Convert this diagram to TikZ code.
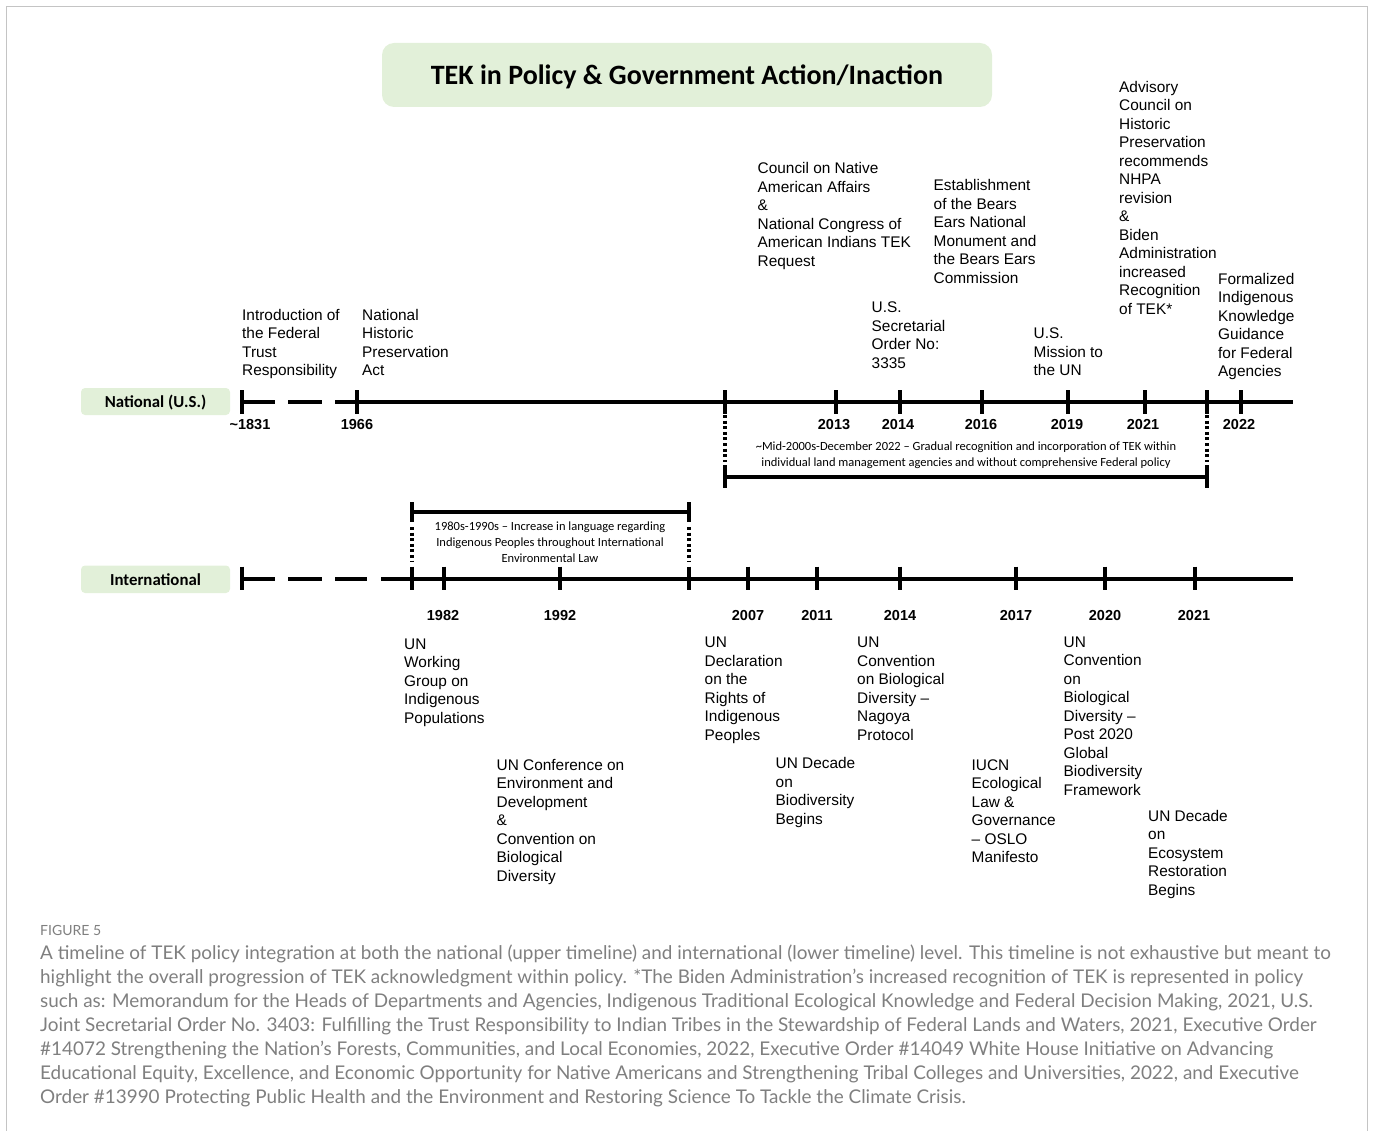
\documentclass[tikz,border=0pt]{standalone}
\usepackage{fontspec}
\setmainfont{Liberation Sans}
\newfontfamily\calib{Carlito}
\newfontfamily\capfont{Lato}
\definecolor{boxgreen}{HTML}{E2F0D9}
\definecolor{capgrey}{HTML}{7F7F7F}
\definecolor{framegrey}{HTML}{C4C4C4}
\begin{document}
\begin{tikzpicture}[x=1pt,y=-1pt,
  lbl/.style={anchor=base west, inner sep=0pt, align=left, font=\fontsize{15.4}{18.5}\selectfont},
  yr/.style={inner sep=0pt, font=\fontsize{14.5}{17}\selectfont\bfseries},
  axis/.style={line width=4pt},
  tk/.style={line width=3.5pt},
  dotline/.style={line width=3.5pt, dash pattern=on 3pt off 2.6pt},
  brtext/.style={inner sep=0pt, anchor=base, align=center, font=\calib\fontsize{12.5}{15.7}\selectfont},
  greenbox/.style={fill=boxgreen, draw=none},
  boxtext/.style={inner sep=0pt, anchor=base, font=\calib\bfseries\fontsize{16.8}{19}\selectfont},
]
\useasboundingbox (0,0) rectangle (1373,1131);
% frame
\draw[framegrey, line width=1.3pt] (6.7,1131) -- (6.7,6.7) -- (1367.7,6.7) -- (1367.7,1131);

% title
\fill[greenbox, rounded corners=12pt] (382,43) rectangle (992,107);
\node[inner sep=0pt, anchor=base, font=\calib\bfseries\fontsize{28}{32}\selectfont] (title) at (687,85) {TEK in Policy \& Government Action/Inaction};

% row boxes
\fill[greenbox, rounded corners=4pt] (81,388) rectangle (230,415);
\node[boxtext] (natlbl) at (155.5,407.3) {National (U.S.)};
\fill[greenbox, rounded corners=4pt] (81,565.5) rectangle (230,593);
\node[boxtext] (intlbl) at (155.5,585) {International};

% ---------------- National timeline ----------------
\coordinate (n0) at (242,402);
\coordinate (n0e) at (275,402);
\coordinate (nd1a) at (288,402);
\coordinate (nd1b) at (322,402);
\coordinate (ns) at (335,402);
\coordinate (nend) at (1293,402);
\draw[axis] (n0) -- (n0e);
\draw[axis] (nd1a) -- (nd1b);
\draw[axis] (ns) -- (nend);
\foreach \x/\nm in {242/a,357/b,725/c,836/d,900/e,982/f,1068/g,1145/h,1207/i,1241/j}{
  \coordinate (nt\nm) at (\x,402);
  \draw[tk] (\x,390) -- (\x,413.5);
}
% national bracket
\coordinate (nbl) at (725,477);
\coordinate (nbr) at (1207,477);
\draw[dotline] (725,415) -- (725,462);
\draw[dotline] (1207,415) -- (1207,462);
\draw[tk] (725,465) -- (725,488);
\draw[tk] (1207,465) -- (1207,488);
\draw[line width=3.5pt] (nbl) -- (nbr);
\node[brtext] (nbrtext) at (966,466.2) {\textasciitilde Mid-2000s-December 2022 – Gradual recognition and incorporation of TEK within\\individual land management agencies and without comprehensive Federal policy};

% national years
\foreach \x/\t/\nm in {250/{\textasciitilde 1831}/y1831,357/1966/y1966,834/2013/y2013,898/2014/y2014,981/2016/y2016,1067/2019/y2019,1143/2021/y2021,1239/2022/y2022}{
  \node[yr] (\nm) at (\x,425) {\t};
}

% national labels (anchored at the baseline of the last line)
\node[lbl] (intro) at (242,375.7) {Introduction of\\the Federal\\Trust\\Responsibility};
\node[lbl] (nhpa) at (362,375.7) {National\\Historic\\Preservation\\Act};
\node[lbl] (cnaa) at (757.5,266.3) {Council on Native\\American Affairs\\\&\\National Congress of\\American Indians TEK\\Request};
\node[lbl] (bears) at (933.5,283.3) {Establishment\\of the Bears\\Ears National\\Monument and\\the Bears Ears\\Commission};
\node[lbl] (so) at (871.5,368.3) {U.S.\\Secretarial\\Order No:\\3335};
\node[lbl] (mission) at (1033.5,376) {U.S.\\Mission to\\the UN};
\node[lbl] (advisory) at (1119,314.3) {Advisory\\Council on\\Historic\\Preservation\\recommends\\NHPA\\revision\\\&\\Biden\\Administration\\increased\\Recognition\\of TEK*};
\node[lbl] (formal) at (1218,377) {Formalized\\Indigenous\\Knowledge\\Guidance\\for Federal\\Agencies};

% ---------------- International timeline ----------------
\coordinate (i0) at (242,579);
\coordinate (i0e) at (275,579);
\coordinate (id1a) at (288,579);
\coordinate (id1b) at (322,579);
\coordinate (id2a) at (335,579);
\coordinate (id2b) at (367,579);
\coordinate (is) at (381,579);
\coordinate (iend) at (1293,579);
\draw[axis] (i0) -- (i0e);
\draw[axis] (id1a) -- (id1b);
\draw[axis] (id2a) -- (id2b);
\draw[axis] (is) -- (iend);
\foreach \x/\nm in {242/a,412/b,444/c,560/d,689/e,748/f,817/g,900/h,1016/i,1105/j,1195/k}{
  \coordinate (it\nm) at (\x,579);
  \draw[tk] (\x,566.5) -- (\x,590);
}
% international bracket
\coordinate (ibl) at (412,512);
\coordinate (ibr) at (689,512);
\draw[tk] (412,502) -- (412,522);
\draw[tk] (689,502) -- (689,522);
\draw[dotline] (412,527) -- (412,562);
\draw[dotline] (689,527) -- (689,562);
\draw[line width=3.5pt] (ibl) -- (ibr);
\node[brtext] (ibrtext) at (550,562.2) {1980s-1990s – Increase in language regarding\\Indigenous Peoples throughout International\\Environmental Law};

% international years
\foreach \x/\t/\nm in {443/1982/z1982,560/1992/z1992,748/2007/z2007,817/2011/z2011,900/2014/z2014,1016/2017/z2017,1105/2020/z2020,1194/2021/z2021}{
  \node[yr] (\nm) at (\x,615.7) {\t};
}

% international labels (anchored at the baseline of the last line)
\node[lbl] (wg) at (404,723.3) {UN\\Working\\Group on\\Indigenous\\Populations};
\node[lbl] (unced) at (496.5,881) {UN Conference on\\Environment and\\Development\\\&\\Convention on\\Biological\\Diversity};
\node[lbl] (undrip) at (704.5,740) {UN\\Declaration\\on the\\Rights of\\Indigenous\\Peoples};
\node[lbl] (decade) at (775.5,824.3) {UN Decade\\on\\Biodiversity\\Begins};
\node[lbl] (nagoya) at (857,740) {UN\\Convention\\on Biological\\Diversity –\\Nagoya\\Protocol};
\node[lbl] (iucn) at (971.5,862.7) {IUCN\\Ecological\\Law \&\\Governance\\– OSLO\\Manifesto};
\node[lbl] (post) at (1063.5,795) {UN\\Convention\\on\\Biological\\Diversity –\\Post 2020\\Global\\Biodiversity\\Framework};
\node[lbl] (eco) at (1148,895) {UN Decade\\on\\Ecosystem\\Restoration\\Begins};

% ---------------- caption ----------------
\node[anchor=base west, inner sep=0pt, text=capgrey, font=\capfont\fontsize{14}{16}\selectfont] (figlbl) at (40,935) {FIGURE 5};
\node[anchor=base west, inner sep=0pt, align=left, text=capgrey, font=\capfont\fontsize{18.9}{24}\selectfont] (caption) at (40,1103) {A timeline of TEK policy integration at both the national (upper timeline) and international (lower timeline) level. This timeline is not exhaustive but meant to\\
highlight the overall progression of TEK acknowledgment within policy. *The Biden Administration’s increased recognition of TEK is represented in policy\\
such as: Memorandum for the Heads of Departments and Agencies, Indigenous Traditional Ecological Knowledge and Federal Decision Making, 2021, U.S.\\
Joint Secretarial Order No. 3403: Fulfilling the Trust Responsibility to Indian Tribes in the Stewardship of Federal Lands and Waters, 2021, Executive Order\\
\#14072 Strengthening the Nation’s Forests, Communities, and Local Economies, 2022, Executive Order \#14049 White House Initiative on Advancing\\
Educational Equity, Excellence, and Economic Opportunity for Native Americans and Strengthening Tribal Colleges and Universities, 2022, and Executive\\
Order \#13990 Protecting Public Health and the Environment and Restoring Science To Tackle the Climate Crisis.};
\end{tikzpicture}
\end{document}
